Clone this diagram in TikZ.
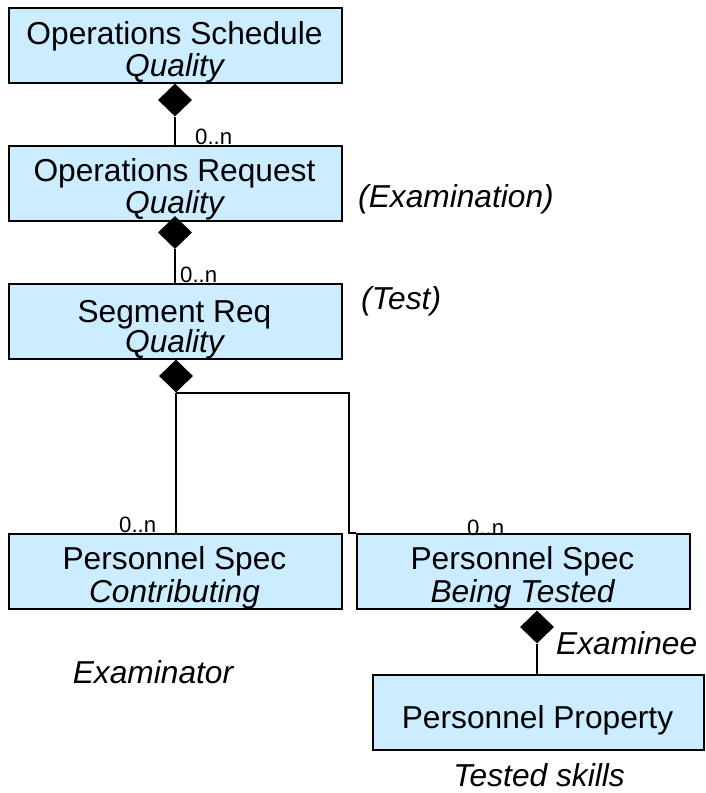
\documentclass[tikz,border=0pt]{standalone}
\usepackage{fontspec}
\setmainfont{Liberation Sans}
\usetikzlibrary{shapes.geometric}
\definecolor{boxblue}{RGB}{204,236,255}
\tikzset{
  cls/.style={draw=black, line width=1.6pt, fill=boxblue, rectangle, anchor=north west,
    minimum width=333pt, minimum height=75pt, inner sep=0pt},
  txt/.style={anchor=base, inner sep=0pt, font=\fontsize{31.7}{33}\selectfont},
  itxt/.style={txt, font=\fontsize{31.7}{33}\selectfont\itshape},
  mult/.style={anchor=base west, inner sep=0pt, font=\fontsize{22.2}{24}\selectfont},
  agg/.style={diamond, fill=black, draw=none, inner sep=0pt, minimum width=34pt, minimum height=33pt},
  conn/.style={draw=black, line width=1.6pt},
}
\begin{document}
\begin{tikzpicture}[x=1pt, y=-1pt]
\useasboundingbox (0,0) rectangle (706,793);
% boxes
\node[cls] (b1) at (8,7) {};
\node[cls] (b2) at (8,145) {};
\node[cls] (b3) at (8,283) {};
\node[cls] (b4) at (8,533) {};
\node[cls] (b5) at (356,533) {};
\node[cls, minimum width=331pt] (b6) at (372,674) {};
% box texts
\node[txt]  (b1a) at (174.5,44) {Operations Schedule};
\node[itxt] (b1b) at (174.5,76) {Quality};
\node[txt]  (b2a) at (174.5,181) {Operations Request};
\node[itxt] (b2b) at (174.5,213) {Quality};
\node[txt]  (b3a) at (174.5,322) {Segment Req};
\node[itxt] (b3b) at (174.5,352) {Quality};
\node[txt]  (b4a) at (174.5,569) {Personnel Spec};
\node[itxt] (b4b) at (174.5,602) {Contributing};
\node[txt]  (b5a) at (522.5,569) {Personnel Spec};
\node[itxt] (b5b) at (522.5,602) {Being Tested};
\node[txt]  (b6a) at (537.5,728) {Personnel Property};
% diamonds
\node[agg] (d1) at (175,100) {};
\node[agg] (d2) at (175,232.5) {};
\node[agg] (d3) at (176,376) {};
\node[agg] (d4) at (537,627) {};
% connectors
\draw[conn] (d1.south) -- (d1.south |- b2.north);
\draw[conn] (d2.south) -- (d2.south |- b3.north);
\draw[conn] (d3.south) -- (d3.south |- b4.north);
\coordinate (j2) at (349,533);
\draw[conn] (d3.south) -| (j2) -- (b5.north west);
\draw[conn] (d4.south) -- (d4.south |- b6.north);
% multiplicities
\node[mult] (m1) at (195,144) {0..n};
\node[mult] (m2) at (180,282) {0..n};
\node[mult] (m3) at (119,532) {0..n};
\node[mult] (m4) at (467,535) {0..n};
% role labels
\node[itxt, anchor=base west] (l1) at (358,207) {(Examination)};
\node[itxt, anchor=base west] (l2) at (361,309) {(Test)};
\node[itxt] (l3) at (153,683) {Examinator};
\node[itxt, anchor=base west] (l4) at (556,654) {Examinee};
\node[itxt] (l5) at (539,786) {Tested skills};
\end{tikzpicture}
\end{document}
